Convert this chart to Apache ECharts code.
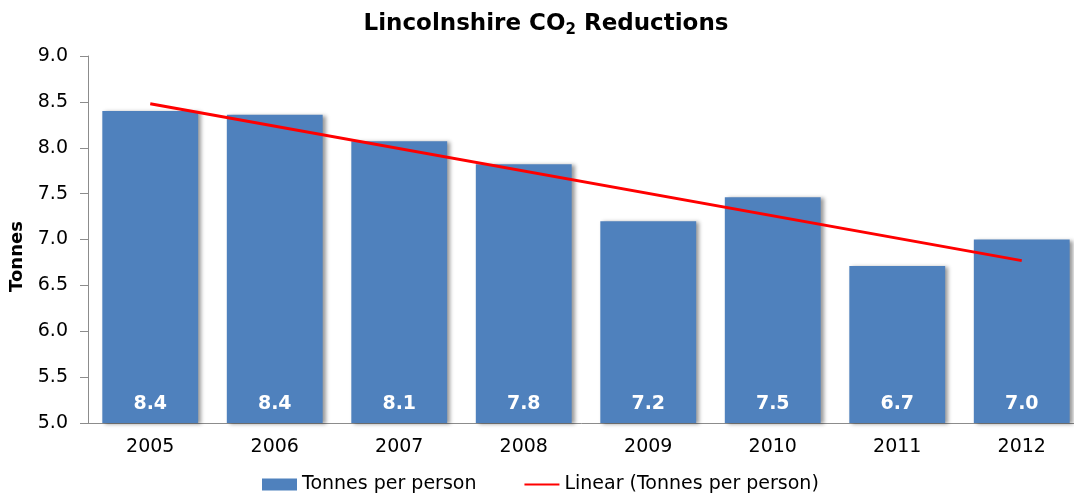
<!DOCTYPE html>
<html>
<head>
<meta charset="utf-8">
<script src="https://cdn.jsdelivr.net/npm/echarts@6/dist/echarts.min.js"></script>
<style>
  html, body { margin: 0; padding: 0; background: #fff; }
  #chart { width: 1074px; height: 500px; }
</style>
</head>
<body>
<div id="chart"></div>
<script>
const years = ['2005', '2006', '2007', '2008', '2009', '2010', '2011', '2012'];
const tonnesPerPerson = [8.40, 8.36, 8.07, 7.82, 7.20, 7.46, 6.71, 7.00];
// trend line end points (first and last year)
const trendPoints = [['2005', 8.48], ['2012', 6.77]];
const yTicks = { min: 5, max: 9, step: 0.5 };

const font = 'DejaVu Sans, Liberation Sans, sans-serif';
const chart = echarts.init(document.getElementById('chart'));

chart.setOption({
  animation: false,
  title: {
    text: '{a|Lincolnshire CO}{s|2}{a| Reductions}',
    left: 541,
    textAlign: 'center',
    top: 5,
    textStyle: {
      rich: {
        a: { fontFamily: font, fontWeight: 'bold', fontSize: 23, color: '#000' },
        s: { fontFamily: font, fontWeight: 'bold', fontSize: 15, color: '#000', verticalAlign: 'bottom', padding: [13, 0, 0, 0] }
      }
    }
  },
  grid: { left: 88, right: -10, top: 56, bottom: 77, outerBoundsMode: 'none' },
  legend: {
    bottom: 1,
    left: 257,
    itemWidth: 35,
    itemHeight: 12,
    itemGap: 47,
    textStyle: { fontFamily: font, fontSize: 19, color: '#000' },
    data: [
      { name: 'Tonnes per person', icon: 'rect' },
      { name: 'Linear (Tonnes per person)', itemStyle: { opacity: 0 } }
    ]
  },
  xAxis: {
    type: 'category',
    data: years,
    axisLine: { lineStyle: { color: '#8c8c8c' } },
    axisTick: { length: 5, lineStyle: { color: '#8c8c8c' } },
    axisLabel: { fontFamily: font, fontSize: 19, color: '#000', margin: 15 }
  },
  yAxis: {
    type: 'value',
    min: yTicks.min,
    max: yTicks.max,
    interval: yTicks.step,
    name: 'Tonnes',
    nameLocation: 'middle',
    nameGap: 62,
    nameTextStyle: { fontFamily: font, fontWeight: 'bold', fontSize: 18, color: '#000', padding: [0, 34, 0, 0] },
    axisLine: { show: true, lineStyle: { color: '#8c8c8c' } },
    axisTick: { show: true, length: 8, lineStyle: { color: '#8c8c8c' } },
    splitLine: { show: false },
    axisLabel: {
      fontFamily: font, fontSize: 19, color: '#000', margin: 20,
      formatter: v => v.toFixed(1)
    }
  },
  series: [
    {
      name: 'Tonnes per person',
      type: 'bar',
      data: tonnesPerPerson,
      barCategoryGap: '23%',
      itemStyle: {
        color: '#4F81BD',
        shadowColor: 'rgba(0,0,0,0.4)',
        shadowBlur: 4,
        shadowOffsetX: 3,
        shadowOffsetY: 1
      },
      label: {
        show: true,
        position: 'insideBottom',
        distance: 9,
        fontFamily: font,
        fontWeight: 'bold',
        fontSize: 19,
        color: '#fff',
        formatter: p => p.value.toFixed(1)
      }
    },
    {
      name: 'Linear (Tonnes per person)',
      type: 'line',
      data: trendPoints,
      symbol: 'none',
      lineStyle: { color: '#FF0000', width: 3 },
      itemStyle: { color: '#FF0000' },
      z: 5
    }
  ]
});
</script>
</body>
</html>
